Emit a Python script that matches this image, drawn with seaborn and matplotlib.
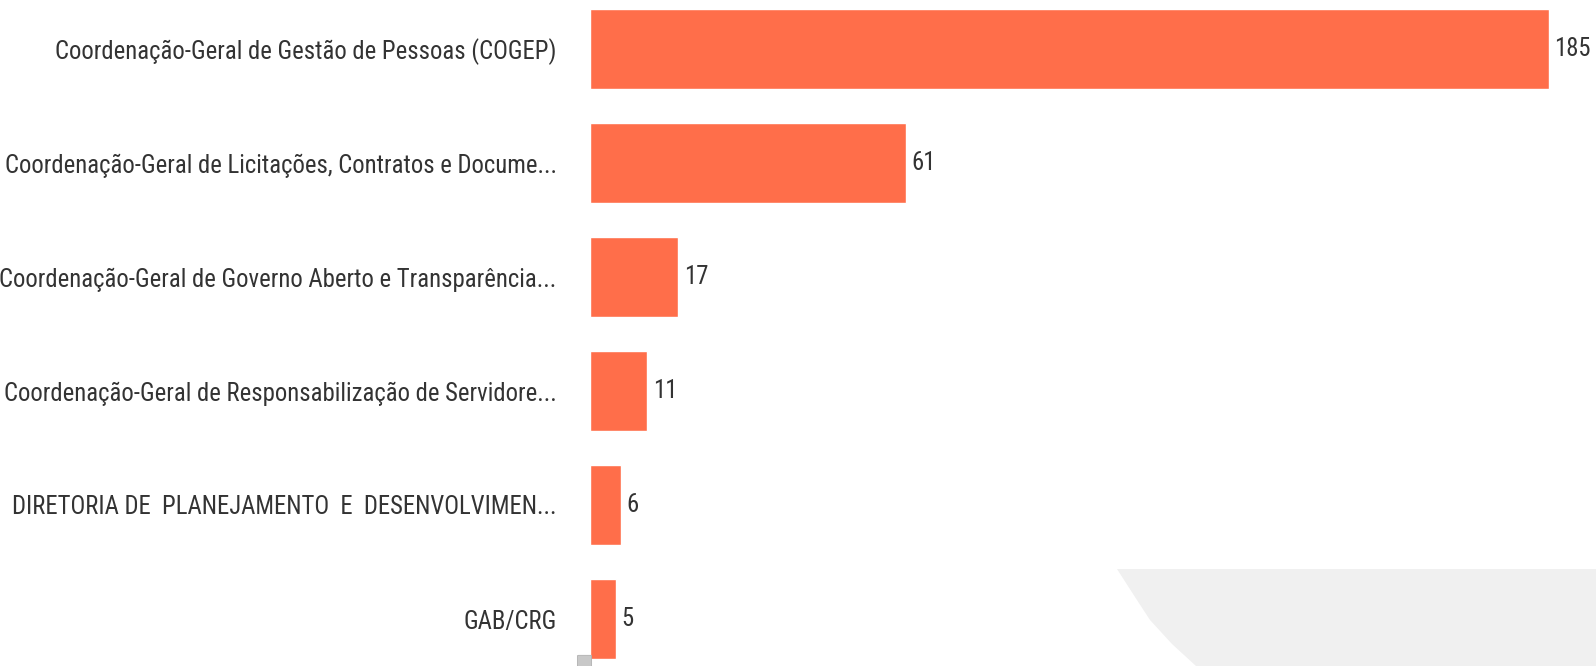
import matplotlib
matplotlib.use("Agg")
import matplotlib.pyplot as plt
import seaborn as sns
import pandas as pd
from matplotlib.patches import Polygon, FancyBboxPatch
from matplotlib import font_manager

categories = [
    "Coordenação-Geral de Gestão de Pessoas (COGEP)",
    "Coordenação-Geral de Licitações, Contratos e Docume...",
    "Coordenação-Geral de Governo Aberto e Transparência...",
    "Coordenação-Geral de Responsabilização de Servidore...",
    "DIRETORIA DE  PLANEJAMENTO  E  DESENVOLVIMEN...",
    "GAB/CRG",
]
values = [185, 61, 17, 11, 6, 5]

df = pd.DataFrame({"unidade": categories, "total": values})

sns.set_theme(style="white")
names = {f.name for f in font_manager.fontManager.ttflist}
narrow = [n for n in ["Liberation Sans Narrow", "Arial Narrow", "Roboto Condensed",
                      "Open Sans Condensed"] if n in names]
if narrow:
    fam = [narrow[0], "DejaVu Sans"]
    fsize = 17.8
else:
    fam = [n for n in ["Liberation Sans", "DejaVu Sans"] if n in names]
    fsize = 15.5
plt.rcParams["font.family"] = fam

W, H = 1596, 666
fig = plt.figure(figsize=(W / 100, H / 100), dpi=100)
fig.patch.set_facecolor("white")

# background decoration (light grey shape bottom-right)
pts = [(1117, 569), (1135, 597), (1150, 620), (1172, 644), (1196, 666), (1596, 666), (1596, 569)]
poly = Polygon([(x / W, 1 - y / H) for x, y in pts], closed=True,
               transform=fig.transFigure, facecolor="#f0f0f0", edgecolor="none", zorder=0)
fig.patches.append(poly)
icon = FancyBboxPatch((579 / W, 0), 11 / W, 10 / H, boxstyle="round,pad=0.001",
                      transform=fig.transFigure, facecolor="#c8c8c8", edgecolor="#b0b0b0",
                      linewidth=0.6, zorder=0)
fig.patches.append(icon)

x0 = 590
ax = fig.add_axes([x0 / W, 0, 1 - x0 / W, 1])
ax.set_facecolor("none")

sns.barplot(data=df, x="total", y="unidade", orient="h", color="#ff6e4a",
            saturation=1, width=0.7, ax=ax, zorder=2)

xmax = 185 * (W - x0) / (1549 - x0)
ax.set_xlim(0, xmax)
c0, step = 49, 114
ax.set_ylim(5 + (H - (c0 + 5 * step)) / step, -c0 / step)

for cont in ax.containers:
    ax.bar_label(cont, padding=4, fontsize=fsize, color="#333333")

ax.set_xlabel("")
ax.set_ylabel("")
ax.set_xticks([])
ax.tick_params(axis="y", length=0, pad=24, labelsize=fsize, labelcolor="#333333")
for s in ax.spines.values():
    s.set_visible(False)

fig.savefig("out.png", dpi=100, facecolor="white")
